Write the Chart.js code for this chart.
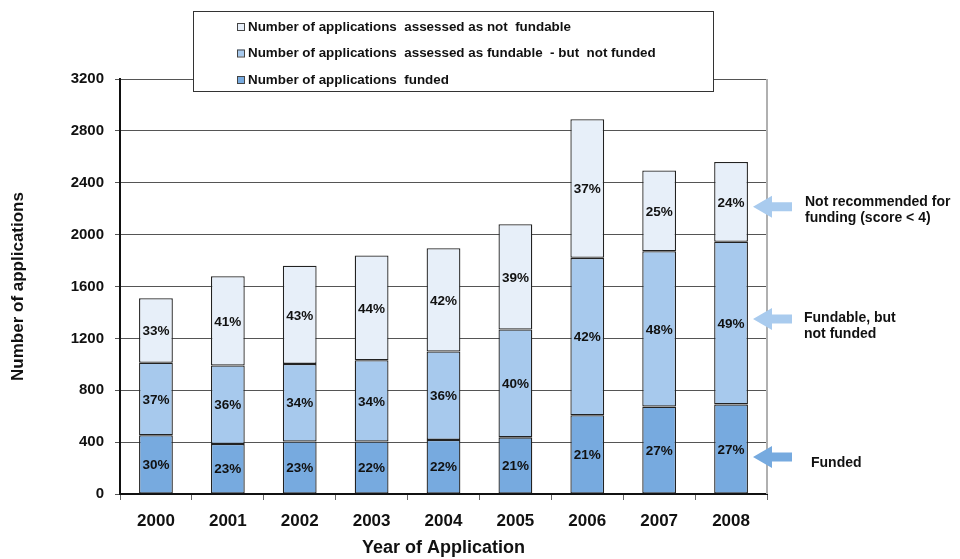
<!DOCTYPE html>
<html lang="en">
<head>
  <meta charset="UTF-8" />
  <title>Number of applications by year</title>
  <script src="https://cdn.jsdelivr.net/npm/chart.js"></script>
  <style>
    body {
      margin: 0;
      background: #fff;
    }
    #wrap {
      width: 960px;
      height: 559px;
    }
  </style>
</head>
<body>
  <div id="wrap">
    <canvas id="appChart" width="960" height="559"></canvas>
  </div>

  <script>
    const years = ['2000', '2001', '2002', '2003', '2004', '2005', '2006', '2007', '2008'];

    // application counts per year
    const funded      = [453, 386, 405, 405, 417, 437, 607, 674, 691];
    const fundable    = [559, 605, 598, 626, 682, 832, 1214, 1198, 1254];
    const notFundable = [498, 689, 757, 809, 796, 811, 1069, 623, 615];

    // share of each year's total, printed inside the bars
    const pctFunded      = [30, 23, 23, 22, 22, 21, 21, 27, 27];
    const pctFundable    = [37, 36, 34, 34, 36, 40, 42, 48, 49];
    const pctNotFundable = [33, 41, 43, 44, 42, 39, 37, 25, 24];

    const yTicks = [0, 400, 800, 1200, 1600, 2000, 2400, 2800, 3200];

    const FONT = "'Liberation Sans', Arial, sans-serif";
    const colFunded = '#77aadf';
    const colFundable = '#a7c9ed';
    const colNotFundable = '#e7eff9';

    // side notes with arrows, anchored to values on the y axis
    const sideNotes = [
      { value: 2215, lines: ['Not recommended for', 'funding (score < 4)'], color: '#a9cbee', dx: 0, dy: -5 },
      { value: 1350, lines: ['Fundable, but', 'not funded'], color: '#a9cbee', dx: -1, dy: -1 },
      { value: 285, lines: ['Funded'], color: '#76aadf', dx: 6, dy: 6 }
    ];

    const percentLabels = {
      id: 'percentLabels',
      afterDatasetsDraw(chart) {
        const ctx = chart.ctx;
        ctx.save();
        ctx.font = 'bold 13.5px ' + FONT;
        ctx.fillStyle = '#111';
        ctx.textAlign = 'center';
        ctx.textBaseline = 'middle';
        chart.data.datasets.forEach((ds, i) => {
          const meta = chart.getDatasetMeta(i);
          meta.data.forEach((bar, j) => {
            const mid = (bar.y + bar.base) / 2;
            ctx.fillText(ds.pct[j] + '%', bar.x, mid + 1);
          });
        });
        ctx.restore();
      }
    };

    const frameAndNotes = {
      id: 'frameAndNotes',
      beforeDatasetsDraw(chart) {
        const { ctx, chartArea } = chart;
        // light right-hand border of the plot
        ctx.save();
        ctx.strokeStyle = '#b0b0b0';
        ctx.lineWidth = 2;
        ctx.beginPath();
        ctx.moveTo(chartArea.right, chartArea.top);
        ctx.lineTo(chartArea.right, chartArea.bottom);
        ctx.stroke();
        ctx.restore();
      },
      afterDraw(chart) {
        const { ctx, chartArea } = chart;
        const y = chart.scales.y;

        // legend box over the top of the plot
        const bx = 193, by = 11, bw = 520, bh = 80;
        ctx.save();
        ctx.fillStyle = '#fff';
        ctx.fillRect(bx, by, bw, bh);
        ctx.strokeStyle = '#333';
        ctx.lineWidth = 1;
        ctx.strokeRect(bx + 0.5, by + 0.5, bw, bh);

        const items = chart.data.datasets.slice().reverse();
        ctx.font = 'bold 13.4px ' + FONT;
        ctx.textBaseline = 'middle';
        ctx.textAlign = 'left';
        items.forEach((ds, k) => {
          const ry = 27 + k * 26.5;
          ctx.fillStyle = ds.backgroundColor;
          ctx.fillRect(237, ry - 4, 7, 7);
          ctx.strokeStyle = '#444';
          ctx.strokeRect(237.5, ry - 3.5, 7, 7);
          ctx.fillStyle = '#111';
          ctx.fillText(ds.label, 248, ry);
        });

        // arrows and notes on the right
        sideNotes.forEach(n => {
          const cy = y.getPixelForValue(n.value);
          const tip = chartArea.right - 14;
          ctx.fillStyle = n.color;
          ctx.beginPath();
          ctx.moveTo(tip, cy);
          ctx.lineTo(tip + 19, cy - 11);
          ctx.lineTo(tip + 19, cy - 4.5);
          ctx.lineTo(tip + 39, cy - 4.5);
          ctx.lineTo(tip + 39, cy + 4.5);
          ctx.lineTo(tip + 19, cy + 4.5);
          ctx.lineTo(tip + 19, cy + 11);
          ctx.closePath();
          ctx.fill();

          ctx.fillStyle = '#111';
          ctx.font = 'bold 14px ' + FONT;
          ctx.textBaseline = 'middle';
          n.lines.forEach((t, li) => {
            ctx.fillText(t, chartArea.right + 38 + n.dx, cy + n.dy + li * 16);
          });
        });
        ctx.restore();
      }
    };

    const ctx = document.getElementById('appChart').getContext('2d');
    new Chart(ctx, {
      type: 'bar',
      data: {
        labels: years,
        datasets: [
          {
            label: 'Number of applications  funded',
            data: funded,
            pct: pctFunded,
            backgroundColor: colFunded
          },
          {
            label: 'Number of applications  assessed as fundable  - but  not funded',
            data: fundable,
            pct: pctFundable,
            backgroundColor: colFundable
          },
          {
            label: 'Number of applications  assessed as not  fundable',
            data: notFundable,
            pct: pctNotFundable,
            backgroundColor: colNotFundable
          }
        ]
      },
      options: {
        responsive: false,
        animation: false,
        layout: {
          padding: { top: 79, right: 193, left: 0, bottom: 0 }
        },
        datasets: {
          bar: {
            borderColor: '#222',
            borderWidth: 1.3,
            borderSkipped: false,
            categoryPercentage: 1,
            barPercentage: 0.47
          }
        },
        plugins: {
          legend: { display: false },
          tooltip: { enabled: false }
        },
        scales: {
          x: {
            stacked: true,
            afterFit(scale) { scale.height = 65; },
            grid: {
              offset: true,
              drawOnChartArea: false,
              drawTicks: true,
              tickLength: 6,
              color: '#666'
            },
            border: { color: '#111', width: 2 },
            ticks: {
              color: '#111',
              padding: 11,
              font: { family: FONT, size: 17, weight: 'bold' }
            },
            title: {
              display: true,
              text: 'Year of Application',
              color: '#111',
              padding: { top: 2, bottom: 0 },
              font: { family: FONT, size: 18, weight: 'bold' }
            }
          },
          y: {
            stacked: true,
            min: 0,
            max: 3200,
            afterFit(scale) { scale.width = 120; },
            afterBuildTicks(scale) {
              scale.ticks = yTicks.map(v => ({ value: v }));
            },
            grid: {
              color: '#555',
              tickLength: 5
            },
            border: { color: '#111', width: 2 },
            ticks: {
              color: '#111',
              padding: 11,
              callback: v => String(v),
              font: { family: FONT, size: 15, weight: 'bold' }
            },
            title: {
              display: true,
              text: 'Number of applications',
              color: '#111',
              padding: { top: 8, bottom: 0 },
              font: { family: FONT, size: 17, weight: 'bold' }
            }
          }
        }
      },
      plugins: [frameAndNotes, percentLabels]
    });
  </script>
</body>
</html>
